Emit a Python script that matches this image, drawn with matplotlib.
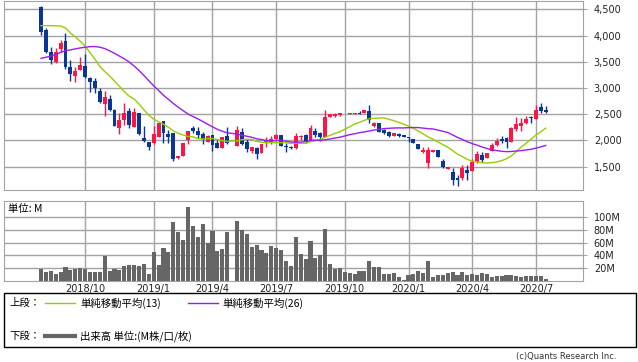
import numpy as np
import pandas as pd
import matplotlib
matplotlib.use("Agg")
import matplotlib.pyplot as plt
from matplotlib.patches import Rectangle

# Data (weekly, 2018/7/30 .. 2020/7/20; nan = no trading week) ------------
nan = np.nan
opens = [4551, 4106, 3693, 3503, 3738, 3896, 3407, 3229, 3344, 3420,
         3191, 3140, 2950, 2696, 2785, 2581, 2245, 2391, 2562, 2264,
         2518, 2048, 1965, 1946, 2073, 2372, 2124, 2137, 1673, 1705,
         2010, 2238, 2188, 2124, 1978, 2105, 1946, 1863, 2086, nan,
         1895, 2162, 1978, 1806, 1863, 1768, 1959, 1978, 2022, 2105,
         1902, 1883, 1851, 2060, 2105, 2010, 2181, 2149, 2073, 2442,
         2467, 2486, 2499, 2499, 2505, 2518, 2518, 2562, 2283, 2327,
         2200, 2168, 2086, 2124, 2099, 2067, 2022, 1933, 1787, 1578,
         1781, 1819, 1616, 1450, 1400, 1292, 1292, 1438, 1419, 1597,
         1724, 1660, 1806, 1914, 2022, 2048, 1978, 2213, 2276, 2340,
         2442, 2403, 2632, 2581]
highs = [4570, 4138, 3776, 3769, 3916, 4055, 3534, 3407, 3598, 3649,
         3204, 3185, 2994, 2950, 2867, 2607, 2518, 2706, 2613, 2613,
         2530, 2276, 1978, 2276, 2359, 2380, 2200, 2140, 1711, 1946,
         2188, 2276, 2264, 2168, 2105, 2105, 2010, 2073, 2264, nan,
         2276, 2232, 2022, 1883, 1883, 1933, 2073, 2086, 2124, 2105,
         1946, 1902, 2149, 2105, 2124, 2296, 2245, 2168, 2581, 2499,
         2518, 2518, 2512, 2518, 2518, 2556, 2581, 2677, 2359, 2340,
         2213, 2188, 2149, 2149, 2099, 2067, 2022, 1933, 1870, 1883,
         1819, 1819, 1641, 1501, 1482, 1343, 1533, 1533, 1641, 1806,
         1787, 1756, 1959, 2041, 2086, 2060, 2264, 2442, 2423, 2467,
         2467, 2677, 2708, 2658]
lows = [4004, 3661, 3458, 3471, 3680, 3369, 3140, 3121, 3344, 3185,
        2931, 2912, 2721, 2467, 2568, 2270, 2124, 2297, 2245, 2264,
        2111, 1978, 1819, 1933, 2060, 1959, 1959, 1616, 1654, 1705,
        1933, 2137, 2041, 1933, 1978, 1806, 1851, 1851, 1933, nan,
        1895, 1914, 1781, 1756, 1641, 1768, 1883, 1933, 2010, 1902,
        1787, 1838, 1838, 2010, 1959, 2010, 2060, 1997, 2073, 2442,
        2442, 2467, 2499, 2499, 2505, 2505, 2518, 2340, 2251, 2156,
        2124, 2073, 2086, 2060, 2073, 1978, 1946, 1832, 1768, 1470,
        1781, 1679, 1470, 1450, 1152, 1133, 1247, 1247, 1419, 1565,
        1597, 1660, 1806, 1895, 1946, 1851, 1978, 2188, 2188, 2315,
        2327, 2403, 2531, 2531]
closes = [4074, 3693, 3534, 3693, 3852, 3407, 3268, 3331, 3439, 3217,
          3115, 2994, 2740, 2823, 2581, 2276, 2391, 2518, 2297, 2543,
          2124, 1997, 1883, 2124, 2340, 2137, 2073, 1654, 1711, 1946,
          2181, 2188, 2105, 2022, 2092, 1914, 1863, 2073, 1959, nan,
          2200, 1933, 1838, 1883, 1743, 1933, 1997, 2029, 2105, 1902,
          1883, 1851, 2086, 2086, 1978, 2232, 2105, 2073, 2454, 2499,
          2499, 2518, 2512, 2518, 2518, 2505, 2575, 2391, 2327, 2168,
          2137, 2086, 2149, 2086, 2073, 2041, 1946, 1832, 1819, 1819,
          1819, 1679, 1501, 1501, 1247, 1247, 1482, 1387, 1597, 1743,
          1629, 1756, 1914, 1997, 1997, 1978, 2232, 2315, 2340, 2410,
          2429, 2581, 2569, 2550]
volume_m = [18.4, 13.7, 15.3, 10.5, 13.7, 21.6, 16.8, 19, 20, 19,
            13.7, 13.7, 13.7, 39, 15.3, 18.4, 16.8, 23, 24.7, 24.7,
            23, 26.3, 10.5, 45, 24.7, 51.6, 45, 92.6, 76.8, 64.2,
            116, 86, 69, 89, 60, 78, 47, 50, 77, nan,
            94, 80, 74, 53, 56, 48, 44, 55, 52, 48,
            31, 23, 69, 42, 34, 63, 36, 40, 81, 26,
            18.4, 20, 13.7, 12, 10.5, 15, 15, 31, 21.6, 21.6,
            10.5, 10.5, 12.1, 5.8, 1, 9, 10.5, 15.3, 12.1, 31,
            5.8, 9, 9, 12.1, 13.7, 9, 13.7, 9, 10.5, 9,
            12.1, 10.5, 5.8, 7.4, 7.4, 9, 9, 7.4, 5.8, 7.4,
            7.4, 7.4, 7.4, 2.6]
# weekly closes before the visible range (estimated, only feed the averages)
prior_closes = [3150, 3000, 2850, 2800, 2600, 2850, 2850, 2950, 2900, 2800,
                2950, 3050, 3500, 3693, 3534, 3745, 3891, 3900, 4503, 4300,
                4505, 4465, 4700, 4600, 4550]

tick_pos = [9, 23, 35, 48, 62, 75, 88, 101]
tick_labels = ["2018/10", "2019/1", "2019/4", "2019/7",
               "2019/10", "2020/1", "2020/4", "2020/7"]
price_ticks = [1500, 2000, 2500, 3000, 3500, 4000, 4500]
vol_ticks = [20, 40, 60, 80, 100]

# Styles ---------------------------------------------------------------
W, H = 638, 362
up_color = "#ff1446"
down_color = "#0a3796"
ma13_color = "#99cc00"
ma26_color = "#9b1cf5"
grid_color = "#a3a3a3"
vol_color = "#666666"
jp = ["Noto Sans CJK JP", "DejaVu Sans"]
plt.rcParams["font.family"] = ["DejaVu Sans"]
plt.rcParams["font.size"] = 7

o = np.array(opens, float)
h = np.array(highs, float)
l = np.array(lows, float)
c = np.array(closes, float)
v = np.array(volume_m, float)
x = np.arange(len(c))
ok = ~np.isnan(c)

# simple moving averages over trading weeks
hist = pd.Series(prior_closes + list(c[ok]))
ma13 = hist.rolling(13).mean().to_numpy()[len(prior_closes):]
ma26 = hist.rolling(26).mean().to_numpy()[len(prior_closes):]

fig = plt.figure(figsize=(W / 100, H / 100), dpi=100)


def px_axes(x0, y0, x1, y1):
    return fig.add_axes([x0 / W, 1 - y1 / H, (x1 - x0) / W, (y1 - y0) / H])


ax = px_axes(4, 1, 582.7, 190)
axv = px_axes(4, 201, 582.7, 280.7)
xlim = (-7.55, 110.55)

for a in (ax, axv):
    a.set_xlim(*xlim)
    a.set_xticks(tick_pos)
    a.grid(True, color=grid_color, lw=1)
    a.set_axisbelow(True)
    a.yaxis.tick_right()
    a.tick_params(axis="y", length=3, color=grid_color, pad=5, labelcolor="#222222")
    a.tick_params(axis="x", length=0, labelcolor="#222222")
    for s in a.spines.values():
        s.set_color(grid_color)

# price panel
cols = np.where(c >= o, up_color, down_color)
ax.vlines(x[ok], l[ok], h[ok], colors=cols[ok], lw=1, zorder=2)
ax.bar(x[ok], np.maximum(np.abs(c - o), 12)[ok], bottom=np.minimum(o, c)[ok],
       width=0.8, color=cols[ok], linewidth=0, zorder=3)
ax.plot(x[ok], ma13, color=ma13_color, lw=1, zorder=4)
ax.plot(x[ok], ma26, color=ma26_color, lw=1, zorder=4)
ax.set_ylim(1056, 4659)
ax.set_yticks(price_ticks)
ax.set_yticklabels([f"{t:,}" for t in price_ticks])
ax.set_xticklabels([])

# volume panel
axv.bar(x[ok], v[ok], width=0.82, color=vol_color, linewidth=0, zorder=3)
axv.set_ylim(0, 125.8)
axv.set_yticks(vol_ticks)
axv.set_yticklabels([f"{t}M" for t in vol_ticks])
axv.set_xticklabels(tick_labels)
axv.tick_params(axis="x", pad=2.5)

# legend / notes in pixel coordinates
ov = fig.add_axes([0, 0, 1, 1])
ov.set_xlim(0, W)
ov.set_ylim(H, 0)
ov.axis("off")
ov.patch.set_alpha(0)
fs = 7.5
ov.text(8, 209, "単位: M", family=jp, fontsize=fs, va="center")
ov.add_patch(Rectangle((4, 293), 632, 54, fill=False, ec="black", lw=1))
y1, y2 = 303, 336
ov.text(9, y1, "上段：", family=jp, fontsize=fs, va="center")
ov.plot([45, 75], [y1, y1], color=ma13_color, lw=1)
ov.text(80, y1, "単純移動平均(13)", family=jp, fontsize=fs, va="center")
ov.plot([188, 218], [y1, y1], color=ma26_color, lw=1)
ov.text(222, y1, "単純移動平均(26)", family=jp, fontsize=fs, va="center")
ov.text(9, y2, "下段：", family=jp, fontsize=fs, va="center")
ov.plot([45, 75], [y2, y2], color=vol_color, lw=3)
ov.text(80, y2, "出来高 単位:(M株/口/枚)", family=jp, fontsize=fs, va="center")
ov.text(617, 356, "(c)Quants Research Inc.", fontsize=6, ha="right",
        va="center", color="#333333")

fig.savefig("out.png", dpi=100)
